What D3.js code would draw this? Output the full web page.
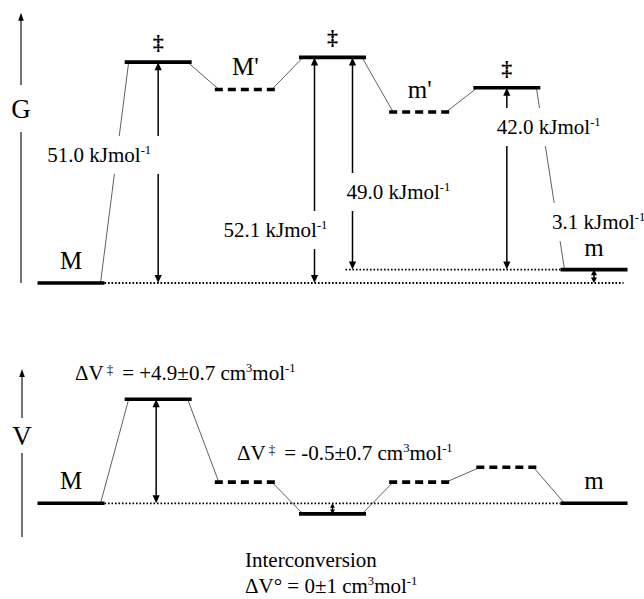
<!DOCTYPE html>
<html>
<head>
<meta charset="utf-8">
<script src="https://cdn.jsdelivr.net/npm/d3@7"></script>
<style>
  html, body { margin: 0; padding: 0; background: #fff; }
  svg { display: block; }
</style>
</head>
<body>
<script>
// States along the interconversion pathway M -> m
const states = ["M", "TS1", "M'", "TS2", "m'", "TS3", "m"];
const stateLabels = ["M", "\u2021", "M'", "\u2021", "m'", "\u2021", "m"];

// Free energy levels relative to M (kJ/mol); M' and m' are intermediates
const gibbsLevels = [0, 51.0, 44.7, 52.1, 39.5, 45.1, 3.1];
const gibbsMeasured = [true, true, false, true, false, true, true];

// Free energy differences drawn as arrows (kJ/mol)
const gibbsFrom = ["M", "M", "m", "m", "M"];
const gibbsTo = ["TS1", "TS2", "TS2", "TS3", "m"];
const gibbsValues = [51.0, 52.1, 49.0, 42.0, 3.1];

// Volume levels relative to M (cm3/mol)
const volumeLevels = [0, 4.9, 1.0, -0.5, 1.0, 1.7, 0];
const volumeMeasured = [true, true, false, true, false, false, true];

// Activation volumes drawn as arrows (cm3/mol)
const volumeFrom = ["M", "M"];
const volumeTo = ["TS1", "TS2"];
const volumeValues = [4.9, -0.5];
const volumeErrors = [0.7, 0.7];

// Overall reaction volume for M -> m
const interconversionValue = 0;
const interconversionError = 1;

const W = 644, H = 599;
const SERIF = "'Liberation Serif', 'DejaVu Serif', 'Times New Roman', serif";
const svg = d3.select("body").append("svg")
  .attr("width", W).attr("height", H)
  .attr("font-family", SERIF)
  .style("font-family", SERIF);

const x = d3.scalePoint().domain(states).range([71, 594]);
const yG = d3.scaleLinear().domain([0, d3.max(gibbsLevels)]).range([283, 57.4]);
const yV = d3.scaleLinear().domain([0, d3.max(volumeLevels)]).range([503.3, 399.3]);

const halfSolid = 33.5, halfDash = 30.5;
const FS = 21;

function half(measured) { return measured ? halfSolid : halfDash; }

function txt(g) {
  return g.append("text").attr("font-family", SERIF).attr("fill", "#000");
}

function dotted(g, x1, x2, y) {
  g.append("line").attr("x1", x1).attr("x2", x2).attr("y1", y).attr("y2", y)
    .attr("stroke", "#000").attr("stroke-width", 1.8).attr("stroke-dasharray", "1.6,1.9");
}

function vArrow(g, xp, ya, yb) {
  const top = Math.min(ya, yb), bot = Math.max(ya, yb);
  const hl = Math.min(8, (bot - top) / 2.4), hw = Math.min(3.6, hl * 0.55);
  g.append("line").attr("x1", xp).attr("x2", xp)
    .attr("y1", top + hl * 0.7).attr("y2", bot - hl * 0.7)
    .attr("stroke", "#000").attr("stroke-width", 1.5);
  g.append("path").attr("d", `M${xp},${top}L${xp - hw},${top + hl}L${xp + hw},${top + hl}Z`).attr("fill", "#000");
  g.append("path").attr("d", `M${xp},${bot}L${xp - hw},${bot - hl}L${xp + hw},${bot - hl}Z`).attr("fill", "#000");
}

function axisArrow(g, xp, yTop, yBreak0, yBreak1, yBot, label) {
  g.append("line").attr("x1", xp).attr("x2", xp).attr("y1", yTop + 6).attr("y2", yBreak0)
    .attr("stroke", "#000").attr("stroke-width", 1.1);
  g.append("line").attr("x1", xp).attr("x2", xp).attr("y1", yBreak1).attr("y2", yBot)
    .attr("stroke", "#000").attr("stroke-width", 1.1);
  g.append("path").attr("d", `M${xp},${yTop}L${xp - 2.8},${yTop + 8}L${xp + 2.8},${yTop + 8}Z`).attr("fill", "#000");
  txt(g).attr("x", xp).attr("y", (yBreak0 + yBreak1) / 2 + 9.5)
    .attr("text-anchor", "middle").attr("font-size", 27).text(label);
}

// superscript piece inside a text element; returns a tspan back on the baseline
function addSup(t, s) {
  t.append("tspan").attr("font-size", FS * 0.6).attr("dy", -FS * 0.36).text(s);
  return t.append("tspan").attr("font-size", FS).attr("dy", FS * 0.36);
}

function labelBox(g, textSel, px, py) {
  const b = textSel.node().getBBox();
  g.insert("rect", () => textSel.node())
    .attr("x", b.x - px).attr("y", b.y - py + 2)
    .attr("width", b.width + 2 * px).attr("height", b.height + 2 * py - 4)
    .attr("fill", "#fff");
}

function levelLines(g, levels, measured, y) {
  states.forEach((s, i) => {
    const h = half(measured[i]);
    g.append("line")
      .attr("x1", x(s) - h).attr("x2", x(s) + h)
      .attr("y1", y(levels[i])).attr("y2", y(levels[i]))
      .attr("stroke", "#000").attr("stroke-width", 3.6)
      .attr("stroke-dasharray", measured[i] ? null : "8,5");
  });
}

function connectors(g, levels, measured, y) {
  for (let i = 0; i < states.length - 1; i++) {
    const xa = x(states[i]) + half(measured[i]) - 4;
    const xb = x(states[i + 1]) - half(measured[i + 1]) + 4;
    g.append("line")
      .attr("x1", xa).attr("y1", y(levels[i]))
      .attr("x2", xb).attr("y2", y(levels[i + 1]))
      .attr("stroke", "#444").attr("stroke-width", 0.85);
  }
}

/* ---------------- Free energy diagram ---------------- */
const gG = svg.append("g");
const lev = s => gibbsLevels[states.indexOf(s)];

axisArrow(gG, 21, 12.7, 85, 132, 283, "G");

// reference line at M
dotted(gG, x("M") + halfSolid, x("m") + halfSolid - 4, yG(lev("M")));

// arrow positions: two arrows to the same state are spread apart
const gArrowX = gibbsTo.map((t, i) => {
  const shared = gibbsTo.filter(u => u === t).length > 1;
  if (!shared) return x(t);
  return gibbsTo.indexOf(t) === i ? x(t) - 18 : x(t) + 20;
});
// reference line at m
dotted(gG, gArrowX[2] - 7, x("m") - halfSolid, yG(lev("m")));

connectors(gG, gibbsLevels, gibbsMeasured, yG);

gibbsValues.forEach((v, i) => {
  const y0 = lev(gibbsFrom[i]);
  vArrow(gG, gArrowX[i], yG(y0), yG(y0 + v));
});

// label placement for each arrow: anchor, offset from arrow, baseline
const gLabelLayout = [
  { anchor: "end", dx: -7, y: 162 },
  { anchor: "middle", dx: -39, y: 237 },
  { anchor: "start", dx: -6, y: 199 },
  { anchor: "start", dx: -10, y: 134 },
  { anchor: "start", dx: -42, y: 229 }
];
gibbsValues.forEach((v, i) => {
  const L = gLabelLayout[i];
  const t = txt(gG).attr("x", gArrowX[i] + L.dx).attr("y", L.y)
    .attr("text-anchor", L.anchor).attr("font-size", FS);
  t.append("tspan").text(v.toFixed(1) + " kJmol");
  addSup(t, "-1");
  labelBox(gG, t, 9, 9);
});

levelLines(gG, gibbsLevels, gibbsMeasured, yG);

states.forEach((s, i) => {
  const isTS = stateLabels[i] === "\u2021";
  txt(gG)
    .attr("x", x(s)).attr("y", yG(gibbsLevels[i]) - (isTS ? 12 : 14))
    .attr("text-anchor", "middle")
    .attr("font-size", isTS ? 22 : 25)
    .attr("font-weight", isTS ? "bold" : null)
    .text(stateLabels[i]);
});

/* ---------------- Volume diagram ---------------- */
const gV = svg.append("g");
const vlev = s => volumeLevels[states.indexOf(s)];

axisArrow(gV, 22, 369, 418, 453, 537, "V");

dotted(gV, x("M") + halfSolid, x("m") - halfSolid, yV(vlev("M")));
connectors(gV, volumeLevels, volumeMeasured, yV);

const vArrowX = volumeTo.map((t, i) => x(t) + (i === 0 ? -2 : 0));
volumeValues.forEach((v, i) => {
  const y0 = vlev(volumeFrom[i]);
  vArrow(gV, vArrowX[i], yV(y0), yV(y0 + v));
});

const vLabelLayout = [
  { x: 75, y: 380 },
  { x: 237, y: 460 }
];
const fmtSigned = v => (v > 0 ? "+" : v < 0 ? "-" : "") + Math.abs(v).toFixed(1);
volumeValues.forEach((v, i) => {
  const L = vLabelLayout[i];
  const t = txt(gV).attr("x", L.x).attr("y", L.y).attr("font-size", FS);
  t.append("tspan").text("\u0394V");
  t.append("tspan").attr("font-size", 13).attr("dx", 3).attr("dy", -6).text("\u2021");
  t.append("tspan").attr("font-size", FS).attr("dx", 9).attr("dy", 6)
    .text(`= ${fmtSigned(v)}\u00b1${volumeErrors[i].toFixed(1)} cm`);
  addSup(t, "3").text("mol");
  addSup(t, "-1");
});

levelLines(gV, volumeLevels, volumeMeasured, yV);

["M", "m"].forEach(s => {
  txt(gV).attr("x", x(s)).attr("y", yV(vlev(s)) - 14)
    .attr("text-anchor", "middle").attr("font-size", 25).text(s);
});

// overall reaction volume
txt(svg).attr("x", 245).attr("y", 567).attr("font-size", FS).text("Interconversion");
const tI = txt(svg).attr("x", 245).attr("y", 593).attr("font-size", FS);
tI.append("tspan").text(`\u0394V\u00b0 = ${interconversionValue}\u00b1${interconversionError} cm`);
addSup(tI, "3").text("mol");
addSup(tI, "-1");
</script>
</body>
</html>
